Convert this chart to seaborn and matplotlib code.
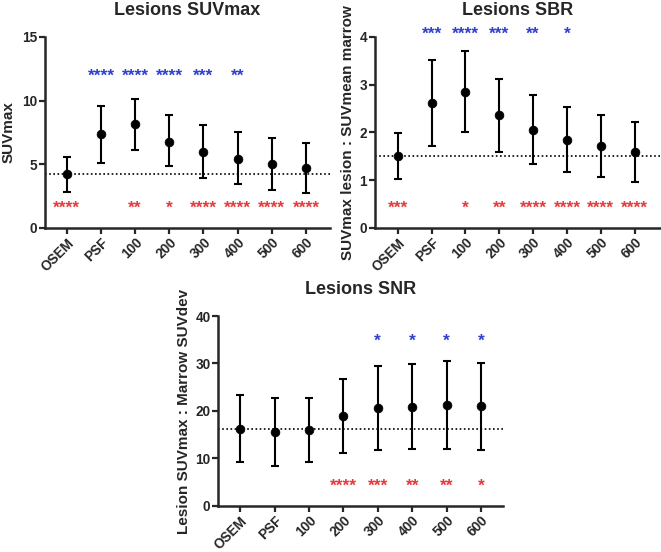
import matplotlib
matplotlib.use('Agg')
import matplotlib.pyplot as plt
import pandas as pd
import seaborn as sns

# data
groups = ['OSEM', 'PSF', '100', '200', '300', '400', '500', '600']

suv_mean = [4.25, 7.40, 8.16, 6.79, 6.00, 5.45, 5.01, 4.69]
suv_low = [2.86, 5.14, 6.16, 4.83, 3.93, 3.44, 3.02, 2.73]
suv_high = [5.61, 9.60, 10.15, 8.84, 8.05, 7.50, 7.03, 6.64]
suv_blue = ['', '****', '****', '****', '***', '**', '', '']
suv_red = ['****', '', '**', '*', '****', '****', '****', '****']

sbr_mean = [1.51, 2.62, 2.85, 2.36, 2.06, 1.85, 1.71, 1.59]
sbr_low = [1.03, 1.72, 2.01, 1.60, 1.34, 1.17, 1.06, 0.97]
sbr_high = [1.99, 3.52, 3.70, 3.12, 2.78, 2.54, 2.36, 2.21]
sbr_blue = ['', '***', '****', '***', '**', '*', '', '']
sbr_red = ['***', '', '*', '**', '****', '****', '****', '****']

snr_mean = [16.3, 15.5, 15.9, 18.9, 20.6, 20.9, 21.2, 21.0]
snr_low = [9.3, 8.4, 9.2, 11.1, 11.7, 11.9, 11.9, 11.7]
snr_high = [23.3, 22.8, 22.7, 26.7, 29.4, 29.9, 30.6, 30.2]
snr_blue = ['', '', '', '', '*', '*', '*', '*']
snr_red = ['', '', '', '****', '***', '**', '**', '*']

sns.set_style('ticks')
plt.rcParams['font.family'] = ['Liberation Sans', 'DejaVu Sans']
plt.rcParams['font.weight'] = 'bold'

BLUE = '#2f3fd0'
RED = '#e8383a'


def panel(ax, title, ylabel, mean, low, high, blue, red, ylim, yticks, yblue, yred, xlim, lpad):
    df = pd.DataFrame({'x': range(len(groups)), 'y': mean})
    err = [[m - l for m, l in zip(mean, low)], [h - m for m, h in zip(mean, high)]]
    ax.errorbar(df['x'], df['y'], yerr=err, fmt='none', ecolor='black',
                elinewidth=1.5, capsize=3.2, capthick=1.5, zorder=2)
    sns.scatterplot(data=df, x='x', y='y', ax=ax, color='black', s=40,
                    edgecolor='black', zorder=3, legend=False)
    ax.axhline(mean[0], color='black', linestyle=(0, (1, 1.5)), linewidth=1.2, zorder=1)
    for i in range(len(groups)):
        if blue[i]:
            ax.text(i, yblue, blue[i], color=BLUE, ha='center', va='center',
                    fontsize=12.5, fontweight='bold', clip_on=False)
        if red[i]:
            ax.text(i, yred, red[i], color=RED, ha='center', va='center',
                    fontsize=12.5, fontweight='bold', clip_on=False)
    ax.set_xlim(*xlim)
    ax.set_ylim(*ylim)
    ax.set_yticks(yticks)
    ax.set_xticks(range(len(groups)))
    ax.set_xticklabels(groups, rotation=45, ha='right', rotation_mode='anchor')
    ax.tick_params(axis='both', labelsize=9.8, width=1.6, length=4.5, pad=1)
    for lab in ax.get_xticklabels() + ax.get_yticklabels():
        lab.set_fontweight('bold')
    ax.set_title(title, fontsize=13, fontweight='bold', pad=16)
    ax.set_xlabel('')
    ax.set_ylabel(ylabel, fontsize=11, fontweight='bold', labelpad=lpad)
    sns.despine(ax=ax)
    for s in ['left', 'bottom']:
        ax.spines[s].set_linewidth(1.8)


fig = plt.figure(figsize=(6.61, 5.52), dpi=100)
ax1 = fig.add_axes([0.068, 0.587, 0.431, 0.346])
ax2 = fig.add_axes([0.567, 0.587, 0.431, 0.346])
ax3 = fig.add_axes([0.330, 0.0835, 0.431, 0.344])

panel(ax1, 'Lesions SUVmax', 'SUVmax', suv_mean, suv_low, suv_high,
      suv_blue, suv_red, (0, 15), [0, 5, 10, 15], 11.9, 1.57, (-0.64, 7.7), 5)
panel(ax2, 'Lesions SBR', 'SUVmax lesion : SUVmean marrow', sbr_mean, sbr_low, sbr_high,
      sbr_blue, sbr_red, (0, 4), [0, 1, 2, 3, 4], 4.06, 0.42, (-0.68, 7.74), 3)
panel(ax3, 'Lesions SNR', 'Lesion SUVmax : Marrow SUVdev', snr_mean, snr_low, snr_high,
      snr_blue, snr_red, (0, 40), [0, 10, 20, 30, 40], 34.7, 4.2, (-0.64, 7.64), 3)

fig.savefig('out.png', dpi=100)
